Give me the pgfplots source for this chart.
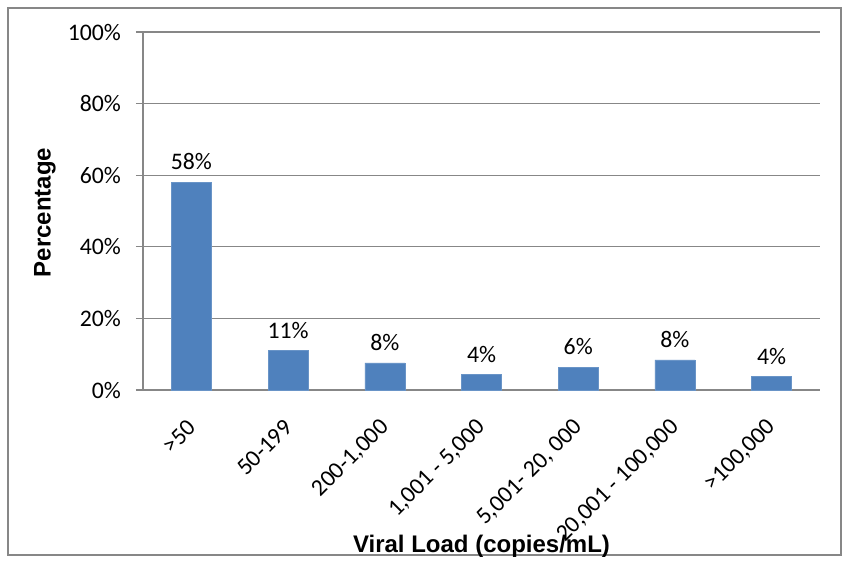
\documentclass[border=0pt]{standalone}
\usepackage{fontspec}
\setmainfont{Carlito}
\newfontfamily\titlefont{Liberation Sans}
\usepackage{pgfplots}
\pgfplotsset{compat=1.18}
\definecolor{barblue}{HTML}{4F81BD}
\definecolor{gridgray}{HTML}{878787}

\pgfplotstableread{
x y
0 58.1
1 11.0
2 7.6
3 4.3
4 6.4
5 8.4
6 3.8
}\viraldata

\begin{document}
\begin{tikzpicture}
% 1 px of the reference = 0.75pt
\useasboundingbox (-107.25pt,-129pt) rectangle (529.5pt,292.5pt);
\draw[gridgray, line width=0.9pt] (-101.25pt,-123.75pt) rectangle (523.5pt,286.5pt);
\begin{axis}[
    scale only axis,
    width=507.75pt,
    height=268.5pt,
    ybar,
    bar width=30pt,
    xmin=-0.5, xmax=6.5,
    ymin=0, ymax=100,
    axis lines*=left,
    axis line style={gridgray, line width=0.8pt},
    ymajorgrids,
    major grid style={gridgray, line width=0.8pt},
    ytick={0,20,...,100},
    yticklabel={\pgfmathprintnumber{\tick}\%},
    xtick={0,...,6},
    xticklabels={>50, 50-199, {200-1,000}, {1,001 - 5,000}, {5,001- 20, 000}, {20,001 - 100,000}, {>100,000}},
    xtick style={draw=none},
    minor xtick={-0.5,0.5,...,6.5},
    minor x tick style={gridgray, line width=0.8pt},
    ytick style={gridgray, line width=0.8pt},
    tick align=outside,
    major tick length=5.25pt,
    minor tick length=5.25pt,
    /pgf/number format/assume math mode=true,
    tick label style={font=\fontsize{17.8}{20}\selectfont, black},
    y tick label style={xshift=-7.8pt},
    x tick label style={rotate=45, anchor=east, xshift=-10.5pt, yshift=-14.5pt},
    ylabel={Percentage},
    ylabel style={at={(axis description cs:-0.1448,0.496)}, anchor=center, font=\titlefont\bfseries\fontsize{18}{20}\selectfont},
    xlabel={Viral Load (copies/mL)},
    xlabel style={at={(axis description cs:0.5,-0.4525)}, anchor=base, font=\titlefont\bfseries\fontsize{18}{20}\selectfont},
    nodes near coords={\pgfmathprintnumber[fixed,precision=0]{\pgfplotspointmeta}\%},
    every node near coord/.append style={font=\fontsize{17.8}{20}\selectfont, black, yshift=5.4pt},
]
\addplot[fill=barblue, draw=barblue!85!white, bar shift=0pt] table[x=x, y=y] {\viraldata};
\end{axis}
\end{tikzpicture}
\end{document}
